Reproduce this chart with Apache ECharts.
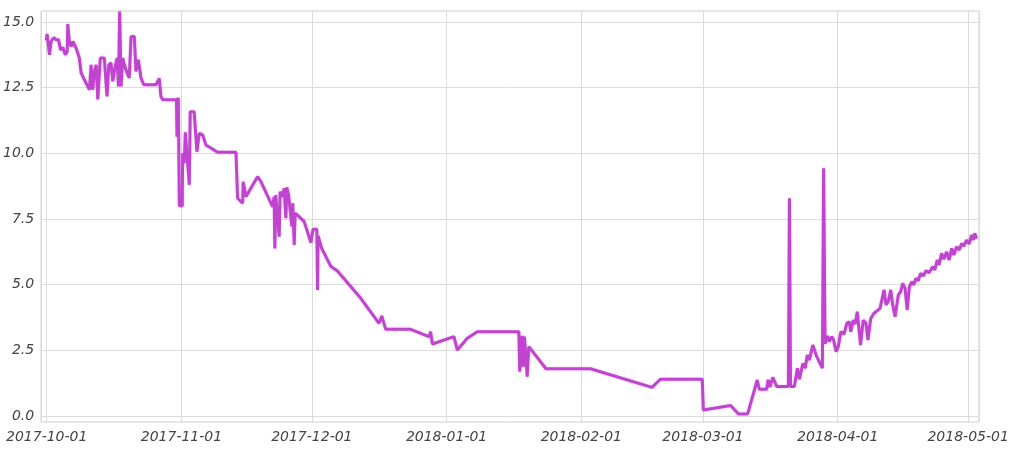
<!DOCTYPE html>
<html><head><meta charset="utf-8">
<script src="https://cdn.jsdelivr.net/npm/echarts@6/dist/echarts.min.js"></script>
<style>html,body{margin:0;padding:0;background:#fff}#c{width:1020px;height:450px}</style>
</head><body><div id="c"></div>
<script>
const dates = [
 '2017-09-30 15:00','2017-09-30 20:00','2017-10-01 09:00','2017-10-01 18:00','2017-10-02 09:00','2017-10-02 22:00',
 '2017-10-03 11:00','2017-10-03 22:00','2017-10-04 11:00','2017-10-05 00:00','2017-10-05 11:00','2017-10-05 14:00',
 '2017-10-05 23:00','2017-10-06 09:00','2017-10-06 18:00','2017-10-07 12:00','2017-10-08 06:00','2017-10-08 16:00',
 '2017-10-09 10:00','2017-10-10 14:00','2017-10-10 23:00','2017-10-11 08:00','2017-10-11 17:00','2017-10-12 03:00',
 '2017-10-12 12:00','2017-10-13 02:00','2017-10-14 00:00','2017-10-14 15:00','2017-10-15 01:00','2017-10-15 13:00',
 '2017-10-15 23:00','2017-10-16 12:00','2017-10-16 23:00','2017-10-17 06:00','2017-10-17 13:00','2017-10-17 21:00',
 '2017-10-18 06:00','2017-10-18 15:00','2017-10-19 06:00','2017-10-19 18:00','2017-10-20 04:00','2017-10-20 22:00',
 '2017-10-21 07:00','2017-10-21 20:00','2017-10-22 11:00','2017-10-23 02:00','2017-10-25 22:00','2017-10-26 16:00',
 '2017-10-27 01:00','2017-10-27 11:00','2017-10-30 15:00','2017-10-30 18:00','2017-10-31 01:00','2017-10-31 07:00',
 '2017-10-31 23:00','2017-11-01 01:00','2017-11-01 10:00','2017-11-01 16:00','2017-11-02 01:00','2017-11-02 05:00',
 '2017-11-02 14:00','2017-11-02 19:00','2017-11-03 17:00','2017-11-04 03:00','2017-11-04 08:00','2017-11-04 21:00',
 '2017-11-05 16:00','2017-11-06 10:00','2017-11-09 03:00','2017-11-13 08:00','2017-11-13 17:00','2017-11-14 21:00',
 '2017-11-15 00:00','2017-11-15 15:00','2017-11-18 07:00','2017-11-19 02:00','2017-11-21 18:00','2017-11-22 03:00',
 '2017-11-22 07:00','2017-11-22 12:00','2017-11-22 22:00','2017-11-23 07:00','2017-11-23 12:00','2017-11-24 01:00',
 '2017-11-24 10:00','2017-11-24 20:00','2017-11-25 01:00','2017-11-25 11:00','2017-11-25 19:00','2017-11-26 05:00',
 '2017-11-26 10:00','2017-11-26 18:00','2017-11-26 23:00','2017-11-27 12:00','2017-11-29 01:00','2017-11-29 19:00',
 '2017-11-30 14:00','2017-12-01 02:00','2017-12-01 23:00','2017-12-02 03:00','2017-12-02 06:00','2017-12-03 02:00',
 '2017-12-05 04:00','2017-12-06 17:00','2017-12-12 02:00','2017-12-16 07:00','2017-12-16 22:00','2017-12-17 20:00',
 '2017-12-23 14:00','2017-12-27 19:00','2017-12-28 04:00','2017-12-28 14:00','2018-01-02 13:00','2018-01-03 08:00',
 '2018-01-05 15:00','2018-01-07 22:00','2018-01-17 12:00','2018-01-17 17:00','2018-01-18 06:00','2018-01-18 12:00',
 '2018-01-18 19:00','2018-01-19 06:00','2018-01-19 10:00','2018-01-19 19:00','2018-01-23 18:00','2018-02-03 00:00',
 '2018-02-17 04:00','2018-02-19 02:00','2018-02-28 18:00','2018-03-01 00:00','2018-03-07 07:00','2018-03-09 02:00',
 '2018-03-11 05:00','2018-03-13 10:00','2018-03-13 21:00','2018-03-15 14:00','2018-03-15 22:00','2018-03-16 08:00',
 '2018-03-17 00:00','2018-03-17 22:00','2018-03-20 14:00','2018-03-20 20:00','2018-03-21 02:00','2018-03-21 23:00',
 '2018-03-22 16:00','2018-03-23 03:00','2018-03-23 22:00','2018-03-24 11:00','2018-03-24 23:00','2018-03-25 10:00',
 '2018-03-26 05:00','2018-03-27 03:00','2018-03-28 10:00','2018-03-28 17:00','2018-03-29 01:00','2018-03-29 14:00',
 '2018-03-30 01:00','2018-03-30 14:00','2018-03-31 00:00','2018-03-31 14:00','2018-04-01 02:00','2018-04-01 16:00',
 '2018-04-02 10:00','2018-04-03 01:00','2018-04-03 15:00','2018-04-03 23:00','2018-04-04 13:00','2018-04-04 23:00',
 '2018-04-05 11:00','2018-04-06 05:00','2018-04-06 20:00','2018-04-07 11:00','2018-04-07 22:00','2018-04-08 13:00',
 '2018-04-09 07:00','2018-04-10 02:00','2018-04-10 17:00','2018-04-11 15:00','2018-04-12 02:00','2018-04-12 14:00',
 '2018-04-13 04:00','2018-04-13 15:00','2018-04-14 04:00','2018-04-14 22:00','2018-04-15 11:00','2018-04-15 22:00',
 '2018-04-16 11:00','2018-04-16 23:00','2018-04-17 11:00','2018-04-18 00:00','2018-04-18 12:00','2018-04-18 23:00',
 '2018-04-19 12:00','2018-04-20 01:00','2018-04-20 16:00','2018-04-21 07:00','2018-04-22 01:00','2018-04-22 20:00',
 '2018-04-23 08:00','2018-04-23 21:00','2018-04-24 08:00','2018-04-24 21:00','2018-04-25 10:00','2018-04-26 01:00',
 '2018-04-26 15:00','2018-04-27 05:00','2018-04-27 17:00','2018-04-28 08:00','2018-04-28 23:00','2018-04-29 12:00',
 '2018-04-30 00:00','2018-04-30 15:00','2018-05-01 06:00','2018-05-01 19:00','2018-05-02 04:00','2018-05-02 13:00',
 '2018-05-02 23:00'
];
const values = [
 14.3,14.54,13.75,14.26,14.41,14.32,
 14.32,13.94,14.03,13.75,13.88,14.92,
 14.26,14.07,14.26,14.01,13.63,13.06,
 12.8,12.42,13.37,12.42,13.12,13.37,
 12.05,13.63,13.63,12.17,13.37,13.44,
 12.74,13.31,13.63,12.55,15.4,12.55,
 13.63,13.37,13.06,12.87,14.45,14.45,
 13.12,13.56,12.87,12.61,12.61,12.85,
 12.17,12.04,12.04,10.63,12.12,8.0,
 8.0,10.0,9.62,10.8,10.8,9.62,
 8.8,11.58,11.58,11.52,10.06,10.76,
 10.7,10.32,10.04,10.04,8.29,8.1,
 8.92,8.35,9.11,8.92,7.97,8.35,
 6.38,8.41,8.41,6.83,8.54,8.35,
 8.67,7.53,8.71,8.41,8.41,7.21,
 8.1,6.51,7.72,7.65,7.4,7.02,
 6.6,7.11,7.11,4.8,6.86,6.38,
 5.7,5.52,4.48,3.53,3.81,3.3,
 3.3,3.02,3.21,2.74,3.02,2.51,
 2.96,3.21,3.21,1.69,3.05,1.88,
 3.02,3.02,1.5,2.64,1.8,1.8,
 1.09,1.4,1.4,0.23,0.4,0.08,
 0.08,1.37,1.02,1.02,1.38,1.1,
 1.47,1.12,1.12,8.29,1.12,1.12,
 1.82,1.4,2.0,1.82,2.32,2.13,
 2.7,2.26,1.82,9.43,2.75,3.05,
 2.83,3.02,2.9,2.45,2.64,3.21,
 3.12,3.53,3.59,3.21,3.65,3.5,
 3.97,2.7,3.65,3.53,2.89,3.7,
 3.91,4.01,4.1,4.8,4.23,4.35,
 4.8,4.23,3.78,4.61,4.73,5.05,
 4.86,4.04,4.92,5.11,4.99,5.24,
 5.15,5.43,5.33,5.53,5.46,5.68,
 5.56,5.94,5.75,6.19,5.97,6.25,
 5.94,6.38,6.13,6.44,6.32,6.57,
 6.47,6.7,6.55,6.89,6.7,6.95,
 6.76
];
const xMin = '2017-09-29 16:30';
const xMax = '2018-05-03 12:00';
const yMin = 0, yMax = 15, yStep = 2.5;

const chart = echarts.init(document.getElementById('c'), null, {renderer: 'canvas'});
function fmtDate(v) {
  const d = new Date(v);
  const p = n => String(n).padStart(2, '0');
  return d.getFullYear() + '-' + p(d.getMonth() + 1) + '-' + p(d.getDate());
}
const labelFont = {fontFamily: 'DejaVu Sans', fontStyle: 'italic', fontSize: 14, color: '#444'};
const gridColor = '#dcdcdc';
chart.setOption({
  animation: false,
  grid: [
    {left: 41, right: 41, top: 22, bottom: 34, show: false},
    {left: 41, right: 41, top: 11, bottom: 28, show: true, borderColor: '#cfcfcf', borderWidth: 1}
  ],
  xAxis: [
    {type: 'time', gridIndex: 0, min: xMin, max: xMax, show: false},
    {type: 'time', gridIndex: 1, min: xMin, max: xMax,
     minInterval: 28 * 864e5, maxInterval: 31 * 864e5,
     axisLine: {show: false}, axisTick: {show: false},
     axisLabel: Object.assign({}, labelFont, {formatter: fmtDate, showMinLabel: false, showMaxLabel: false, margin: 8, hideOverlap: false}),
     splitLine: {show: true, lineStyle: {color: gridColor, width: 1}}}
  ],
  yAxis: [
    {type: 'value', gridIndex: 0, min: yMin, max: yMax, interval: yStep,
     axisLine: {show: false}, axisTick: {show: false},
     axisLabel: Object.assign({}, labelFont, {formatter: v => v.toFixed(1), margin: 8}),
     splitLine: {show: true, lineStyle: {color: gridColor, width: 1}}},
    {type: 'value', gridIndex: 1, show: false, min: 0, max: 1, splitLine: {show: false}}
  ],
  series: [{
    type: 'line', xAxisIndex: 0, yAxisIndex: 0,
    data: dates.map((d, i) => [d, values[i]]),
    showSymbol: false, symbol: 'none', clip: false,
    lineStyle: {color: '#c044cf', width: 3, shadowColor: 'rgba(192,68,207,0.35)', shadowBlur: 2},
    itemStyle: {color: '#c044cf'}
  }]
});
</script></body></html>
